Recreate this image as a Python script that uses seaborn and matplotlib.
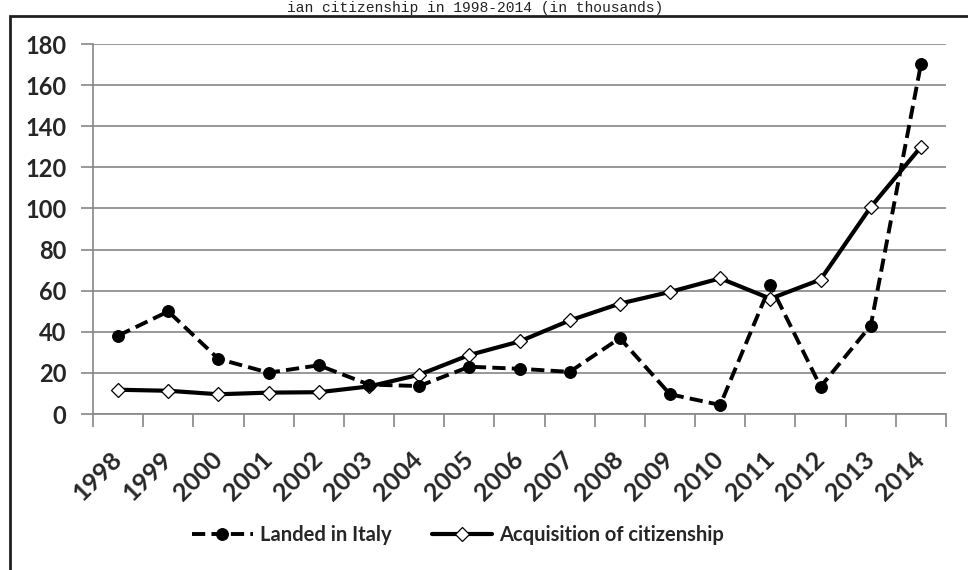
import matplotlib
matplotlib.use("Agg")
import matplotlib.pyplot as plt
from matplotlib.patches import Rectangle
import seaborn as sns
import pandas as pd
import numpy as np

years = ["1998", "1999", "2000", "2001", "2002", "2003", "2004", "2005", "2006",
         "2007", "2008", "2009", "2010", "2011", "2012", "2013", "2014"]
landed = [38.1, 49.9, 26.8, 20.1, 23.7, 14.3, 13.6, 23.0, 22.0, 20.5, 36.9, 9.6, 4.4,
          62.7, 13.3, 43.0, 170.1]
citizenship = [11.8, 11.3, 9.6, 10.4, 10.6, 13.4, 19.1, 28.7, 35.3, 45.5, 53.7, 59.4, 66.0,
               56.1, 65.4, 100.7, 129.9]
yticks = [0, 20, 40, 60, 80, 100, 120, 140, 160, 180]
title_text = "ian citizenship in 1998-2014 (in thousands)"
series_names = ["Landed in Italy", "Acquisition of citizenship"]

sns.set_theme(style="white")
plt.rcParams["font.family"] = ["Lato", "DejaVu Sans"]

W, H = 968, 570
fig = plt.figure(figsize=(W / 100, H / 100), dpi=100)
ax = fig.add_axes([93 / W, 1 - 414 / H, (946 - 93) / W, (414 - 44) / H])

pos = np.arange(len(years))
df1 = pd.DataFrame({"x": pos, "y": landed})
df2 = pd.DataFrame({"x": pos, "y": citizenship})

sns.lineplot(data=df2, x="x", y="y", ax=ax, color="black", linewidth=3.0,
             marker="D", markersize=7.5, markerfacecolor="white",
             markeredgecolor="black", markeredgewidth=0.9,
             label=series_names[1], zorder=3)
sns.lineplot(data=df1, x="x", y="y", ax=ax, color="black", linewidth=2.8,
             marker="o", markersize=8.5, markerfacecolor="black",
             markeredgecolor="black", label=series_names[0], zorder=4)
ax.lines[1].set_dashes([3.4, 1.6])

ax.set_xlim(-0.5, len(years) - 0.5)
ax.set_ylim(0, 180)
ax.set_yticks(yticks)
ax.set_yticklabels([str(v) for v in yticks], fontsize=17, fontweight="bold")
ax.set_xticks(pos)
ax.set_xticklabels(years, rotation=45, ha="right", va="center",
                   rotation_mode="anchor", fontsize=18, fontweight="bold")
ax.set_xticks(np.arange(-0.5, len(years), 1.0), minor=True)
ax.tick_params(axis="x", which="major", length=0, pad=30)
ax.tick_params(axis="x", which="minor", length=9, width=1.2, color="#868686",
               direction="out", bottom=True)
ax.tick_params(axis="y", which="major", length=9, width=1.2, color="#868686",
               direction="out", left=True, pad=10)
ax.set_xlabel("")
ax.set_ylabel("")
ax.grid(axis="y", color="#868686", linewidth=1.2)
ax.grid(axis="x", visible=False)
ax.set_axisbelow(True)
for s in ["top", "right"]:
    ax.spines[s].set_visible(False)
for s in ["left", "bottom"]:
    ax.spines[s].set_color("#868686")
    ax.spines[s].set_linewidth(1.2)

ax.get_legend().remove()
handles, labels = ax.get_legend_handles_labels()
order = [labels.index(series_names[0]), labels.index(series_names[1])]
fig.legend([handles[i] for i in order], [labels[i] for i in order],
           loc="center", bbox_to_anchor=(458 / W, 1 - 535 / H), ncol=2,
           frameon=False, handlelength=3.0, handletextpad=0.35,
           columnspacing=2.0,
           prop={"family": "Lato", "weight": "bold", "size": 14.5})

fig.patches.append(Rectangle((10 / W, -0.05), 1.1, 1 - 16 / H + 0.05,
                             transform=fig.transFigure, fill=False,
                             edgecolor="#202020", linewidth=2, zorder=0))
fig.text(475 / W, 1 - 1 / H, title_text, ha="center", va="top",
         family="Liberation Mono", fontsize=10.5, color="#222222")

fig.savefig("out.png", dpi=100)
